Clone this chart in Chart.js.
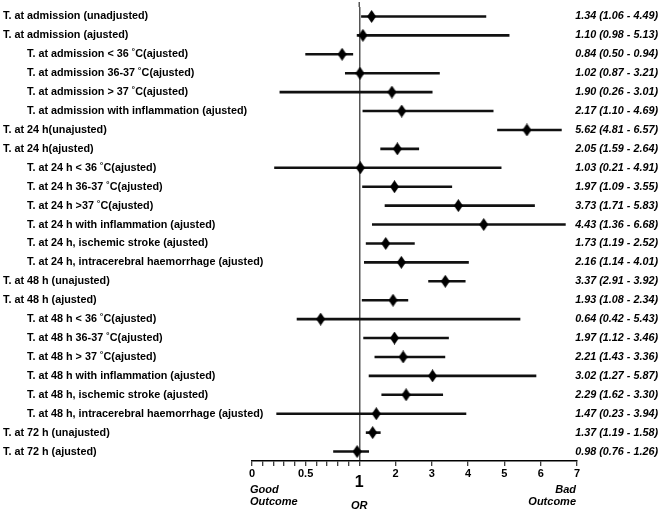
<!DOCTYPE html>
<html>
<head>
<meta charset="utf-8">
<script src="https://cdn.jsdelivr.net/npm/chart.js@4"></script>
<style>
  body { margin: 0; background: #fff; }
  #wrap { width: 662px; height: 512px; position: relative; }
</style>
</head>
<body>
<div id="wrap"><canvas id="forestChart"></canvas></div>
<script>
// Forest plot data

const rowLabels = [
  "T. at admission (unadjusted)",
  "T. at admission (ajusted)",
  "T. at admission < 36 \u02DAC(ajusted)",
  "T. at admission 36-37 \u02DAC(ajusted)",
  "T. at admission > 37 \u02DAC(ajusted)",
  "T. at admission with inflammation (ajusted)",
  "T. at 24 h(unajusted)",
  "T. at 24 h(ajusted)",
  "T. at 24 h < 36 \u02DAC(ajusted)",
  "T. at 24 h 36-37 \u02DAC(ajusted)",
  "T. at 24 h >37 \u02DAC(ajusted)",
  "T. at 24 h with inflammation (ajusted)",
  "T. at 24 h, ischemic stroke (ajusted)",
  "T. at 24 h, intracerebral haemorrhage (ajusted)",
  "T. at 48 h (unajusted)",
  "T. at 48 h (ajusted)",
  "T. at 48 h < 36 \u02DAC(ajusted)",
  "T. at 48 h 36-37 \u02DAC(ajusted)",
  "T. at 48 h > 37 \u02DAC(ajusted)",
  "T. at 48 h with inflammation (ajusted)",
  "T. at 48 h, ischemic stroke (ajusted)",
  "T. at 48 h, intracerebral haemorrhage (ajusted)",
  "T. at 72 h (unajusted)",
  "T. at 72 h (ajusted)",
];

// 0 = main row, 1 = subgroup row
const rowLevel = [0, 0, 1, 1, 1, 1, 0, 0, 1, 1, 1, 1, 1, 1, 0, 0, 1, 1, 1, 1, 1, 1, 0, 0];

const oddsRatio = [1.34, 1.10, 0.84, 1.02, 1.90, 2.17, 5.62, 2.05, 1.03, 1.97, 3.73, 4.43,
  1.73, 2.16, 3.37, 1.93, 0.64, 1.97, 2.21, 3.02, 2.29, 1.47, 1.37, 0.98];
const ciLow = [1.06, 0.98, 0.50, 0.87, 0.26, 1.10, 4.81, 1.59, 0.21, 1.09, 1.71, 1.36,
  1.19, 1.14, 2.91, 1.08, 0.42, 1.12, 1.43, 1.27, 1.62, 0.23, 1.19, 0.76];
const ciHigh = [4.49, 5.13, 0.94, 3.21, 3.01, 4.69, 6.57, 2.64, 4.91, 3.55, 5.83, 6.68,
  2.52, 4.01, 3.92, 2.34, 5.43, 3.46, 3.36, 5.87, 3.30, 3.94, 1.58, 1.26];

const xTicks = [0, 0.1, 0.2, 0.3, 0.4, 0.5, 0.6, 0.7, 0.8, 0.9, 1, 2, 3, 4, 5, 6, 7];
const xTickLabels = ["0", "", "", "", "", "0.5", "", "", "", "", "1", "2", "3", "4", "5", "6", "7"];

// share of the axis width used for 0..1
const belowOneShare = 0.33;

const FONT = '"Liberation Sans", Arial, sans-serif';
Chart.defaults.font.family = FONT;
Chart.defaults.color = "#000";

const valueText = oddsRatio.map(
  (v, i) => `${v.toFixed(2)} (${ciLow[i].toFixed(2)} - ${ciHigh[i].toFixed(2)})`
);

// x scale: 0..1 stretched, 1..7 linear
class OddsScale extends Chart.LinearScale {
  static id = "odds";
  buildTicks() {
    return xTicks.map((v) => ({ value: v }));
  }
  getPixelForValue(value) {
    const split = this.left + this.width * belowOneShare;
    if (value <= 1) {
      return this.left + ((split - this.left) * (value - this.min)) / (1 - this.min);
    }
    return split + ((this.right - split) * (value - 1)) / (this.max - 1);
  }
  getValueForPixel(pixel) {
    const split = this.left + this.width * belowOneShare;
    if (pixel <= split) {
      return this.min + ((pixel - this.left) / (split - this.left)) * (1 - this.min);
    }
    return 1 + ((pixel - split) / (this.right - split)) * (this.max - 1);
  }
}
Chart.register(OddsScale);

// diamond marker
const diamond = document.createElement("canvas");
diamond.width = 9;
diamond.height = 13;
{
  const c = diamond.getContext("2d");
  c.fillStyle = "#000";
  c.beginPath();
  c.moveTo(4.5, 0);
  c.lineTo(9, 6.5);
  c.lineTo(4.5, 13);
  c.lineTo(0, 6.5);
  c.closePath();
  c.fill();
}

// row labels on the left, OR (CI) text on the right, outcome notes under the axis
const textLayer = {
  id: "textLayer",
  afterDraw(chart) {
    const ctx = chart.ctx;
    const xs = chart.scales.x;
    const ys = chart.scales.y;
    ctx.save();
    ctx.fillStyle = "#000";
    ctx.textBaseline = "middle";

    // reference line at OR = 1 reaches a bit above the plot area
    const x1 = xs.getPixelForValue(1);
    ctx.strokeStyle = "#555";
    ctx.lineWidth = 1.5;
    ctx.beginPath();
    ctx.moveTo(x1, 2);
    ctx.lineTo(x1, chart.chartArea.top);
    ctx.stroke();

    ctx.font = "bold 10.8px " + FONT;
    ctx.textAlign = "left";
    rowLabels.forEach((t, i) => {
      ctx.fillText(t, 3 + rowLevel[i] * 24, ys.getPixelForValue(i));
    });

    ctx.font = "italic bold 10.8px " + FONT;
    ctx.textAlign = "right";
    valueText.forEach((t, i) => {
      ctx.fillText(t, chart.width - 4, ys.getPixelForValue(i));
    });

    ctx.font = "italic bold 11px " + FONT;
    const x0 = xs.getPixelForValue(0) - 2;
    const x7 = xs.getPixelForValue(7) - 1;
    ctx.textAlign = "left";
    ctx.fillText("Good", x0, 490);
    ctx.fillText("Outcome", x0, 502);
    ctx.textAlign = "right";
    ctx.fillText("Bad", x7, 490);
    ctx.fillText("Outcome", x7, 502);
    ctx.textAlign = "center";
    ctx.fillText("OR", x1, 506);
    ctx.restore();
  },
};

new Chart(document.getElementById("forestChart"), {
  type: "bar",
  data: {
    labels: rowLabels,
    datasets: [
      {
        type: "line",
        label: "OR",
        data: oddsRatio,
        showLine: false,
        pointStyle: diamond,
        pointRadius: 6,
        order: 0,
      },
      {
        label: "95% CI",
        data: ciLow.map((lo, i) => [lo, ciHigh[i]]),
        backgroundColor: "#111",
        barThickness: 2,
        order: 1,
      },
    ],
  },
  plugins: [textLayer],
  options: {
    indexAxis: "y",
    responsive: true,
    maintainAspectRatio: false,
    animation: false,
    layout: { padding: { left: 3, right: 85, top: 5, bottom: 0 } },
    plugins: {
      legend: { display: false },
      tooltip: { enabled: false },
    },
    scales: {
      x: {
        type: "odds",
        min: 0,
        max: 7,
        afterFit: (s) => { s.height = 51; },
        border: { display: true, color: "#000", width: 1.5 },
        grid: {
          drawOnChartArea: true,
          color: (ctx) => (ctx.tick && ctx.tick.value === 1 ? "#555" : "rgba(0,0,0,0)"),
          lineWidth: 1.5,
          tickColor: "#000",
          tickLength: 5,
          tickWidth: 1,
        },
        ticks: {
          autoSkip: false,
          maxRotation: 0,
          padding: 1,
          color: "#000",
          callback: (value, index) => xTickLabels[index],
          font: (ctx) =>
            ctx.tick && ctx.tick.value === 1
              ? { family: FONT, size: 16, weight: "bold", lineHeight: 2 }
              : { family: FONT, size: 11, weight: "bold" },
        },
      },
      y: {
        type: "category",
        position: "left",
        offset: true,
        afterFit: (s) => { s.width = 249; },
        border: { display: false },
        grid: { display: false, drawTicks: false },
        ticks: { display: false, autoSkip: false },
      },
    },
  },
});
</script>
</body>
</html>
